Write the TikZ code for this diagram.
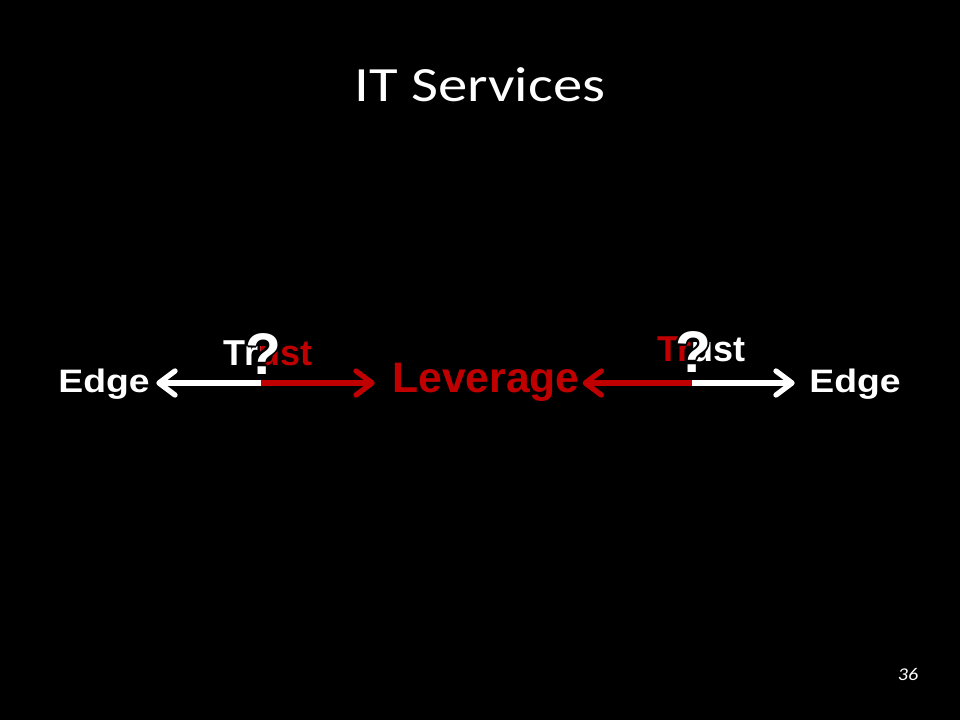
\documentclass[tikz,border=0pt]{standalone}
\usepackage{fontspec}
\setmainfont{Carlito}
\newfontfamily\arialfont{Liberation Sans}
\usepackage{tikz}
\usetikzlibrary{arrows.meta}
\definecolor{darkred}{RGB}{192,0,0}

\begin{document}
\begin{tikzpicture}[line join=round,x=0.75pt,y=-0.75pt,
  lbl/.style={inner sep=0pt,anchor=base},
  edgelbl/.style={lbl,font=\arialfont\bfseries\fontsize{28}{30}\selectfont,yscale=0.87,text=white},
  trustlbl/.style={lbl,font=\arialfont\bfseries\fontsize{27}{30}\selectfont},
  asklbl/.style={lbl,font=\arialfont\bfseries\fontsize{44}{48}\selectfont},
  bar/.style={line width=4pt,line cap=butt,-{Straight Barb[round,length=12pt,width=18pt]}}]
\useasboundingbox (0,0) rectangle (960,720);
\fill[black] (0,0) rectangle (960,720);

\node[lbl,font=\fontsize{44}{50}\selectfont,yscale=0.84,text=white] (title) at (480,101.7) {IT Services};

\node[edgelbl] (edgeL) at (104,392) {Edge};
\node[edgelbl] (edgeR) at (855,392) {Edge};
\node[lbl,font=\arialfont\bfseries\fontsize{32}{34}\selectfont,text=darkred] (lever) at (486,392) {Leverage};

\coordinate (splitL) at (260.5,383);
\coordinate (splitR) at (692,383);

\draw[bar,white,shorten >=4.8pt] (splitL) -- (edgeL.east |- splitL);
\draw[bar,darkred,shorten >=13pt] (splitL) -- (lever.west |- splitL);
\draw[bar,darkred,shorten >=2pt] (splitR) -- (lever.east |- splitR);
\draw[bar,white,shorten >=10.8pt] (splitR) -- (edgeR.west |- splitR);

% Trust, two colours split at the question mark
\begin{scope}
\clip (0,300) rectangle (260.5,378);
\node[trustlbl,text=white] (trustL) at (268,365.5) {Trust};
\end{scope}
\begin{scope}
\clip (260.5,300) rectangle (480,378);
\node[trustlbl,text=darkred] (trustLr) at (268,365.5) {Trust};
\end{scope}
\begin{scope}
\clip (480,300) rectangle (692,378);
\node[trustlbl,text=darkred] (trustR) at (701,361.5) {Trust};
\end{scope}
\begin{scope}
\clip (692,300) rectangle (960,378);
\node[trustlbl,text=white] (trustRw) at (701,361.5) {Trust};
\end{scope}

% question marks with a black rim
\foreach \a in {0,45,...,315} {
  \node[asklbl,text=black,shift={(\a:2)}] (askLh\a) at (263,374) {?};
  \node[asklbl,text=black,shift={(\a:2)}] (askRh\a) at (693,372.7) {?};
}
\node[asklbl,text=white] (askL) at (263,374) {?};
\node[asklbl,text=white] (askR) at (693,372.7) {?};

\node[lbl,font=\itshape\fontsize{15}{16}\selectfont,yscale=0.9,text=white] (pagenum) at (908,680) {36};
\end{tikzpicture}
\end{document}
